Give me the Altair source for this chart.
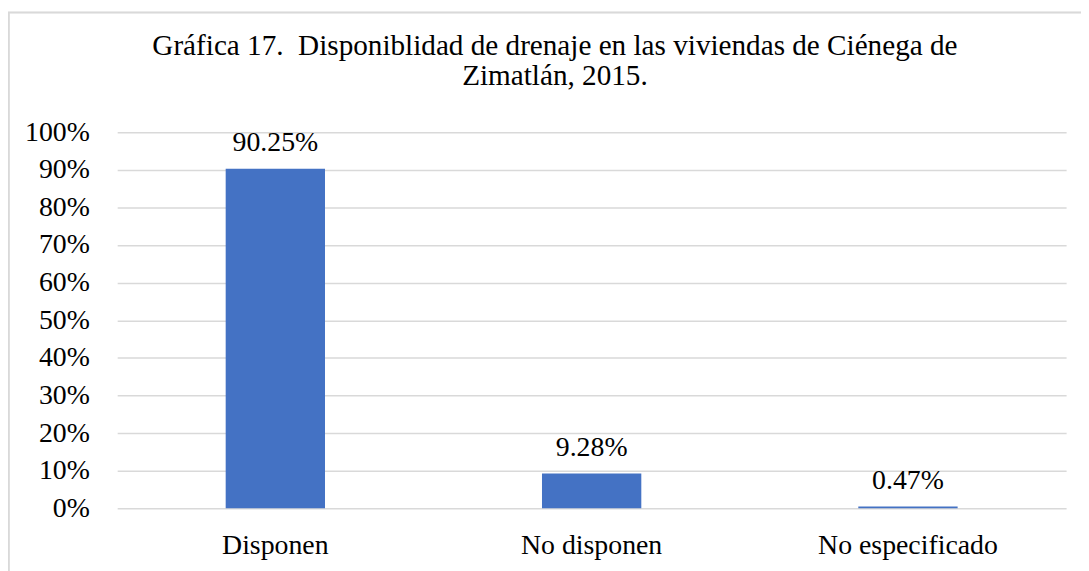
import altair as alt
import pandas as pd

categories = ["Disponen", "No disponen", "No especificado"]
values = [0.9025, 0.0928, 0.0047]
y_ticks = [0, 0.1, 0.2, 0.3, 0.4, 0.5, 0.6, 0.7, 0.8, 0.9, 1.0]

df = pd.DataFrame({"cat": categories, "val": values})
FONT = "Liberation Serif"

base = alt.Chart(df).encode(
    x=alt.X("cat:N", sort=categories, title=None,
            scale=alt.Scale(paddingInner=0.686, paddingOuter=0.343),
            axis=alt.Axis(labelAngle=0, domain=False, ticks=False, labelPadding=23,
                          labelLimit=0,
                          labelFont=FONT, labelFontSize=28, labelColor="#000000")),
    y=alt.Y("val:Q", title=None,
            scale=alt.Scale(domain=[0, 1]),
            axis=alt.Axis(format=".0%", values=y_ticks, labelOverlap=False,
                          domain=False, ticks=False, labelPadding=28,
                          labelFont=FONT, labelFontSize=28, labelColor="#000000",
                          gridColor="#d9d9d9", gridWidth=1.5)),
)

bars = base.mark_bar(color="#4472C4")

labels = base.mark_text(font=FONT, fontSize=28, color="#000000", dy=-18, baseline="alphabetic").encode(
    text=alt.Text("val:Q", format=".2%"),
)

border_left = alt.Chart(df).mark_rule(color="#d9d9d9", strokeWidth=1.5).encode(
    x=alt.value(-109.3), y=alt.value(-121), y2=alt.value(470)
)
border_top = alt.Chart(df).mark_rule(color="#d9d9d9", strokeWidth=1.5).encode(
    x=alt.value(-110), x2=alt.value(980), y=alt.value(-120.5)
)

chart = alt.layer(bars, labels, border_left, border_top).properties(
    width=956,
    height=379,
    autosize=alt.AutoSizeParams(type="none"),
    padding={"left": 110, "top": 123, "right": 15, "bottom": 61},
    title=alt.TitleParams(
        ["Gráfica 17.\u00a0 Disponiblidad de drenaje en las viviendas de Ciénega de",
         "Zimatlán, 2015."],
        font=FONT, fontSize=29.4, fontWeight="normal", color="#000000",
        anchor="middle", dx=-37, offset=-81, lineHeight=31,
    ),
).configure(background="white").configure_view(stroke=None)

chart.save("out.html", embed_options={"renderer": "svg", "actions": False})
